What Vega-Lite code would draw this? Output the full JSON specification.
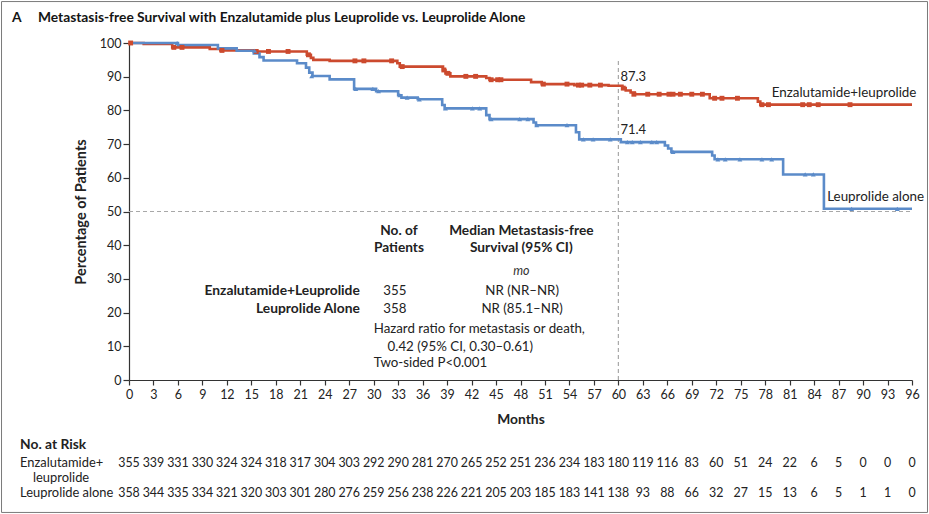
{
  "$schema": "https://vega.github.io/schema/vega-lite/v6.json",
  "width": 783,
  "height": 337,
  "autosize": {"type": "none"},
  "padding": {"left": 129, "top": 43, "right": 17, "bottom": 134},
  "background": "white",
  "config": {
    "view": {"stroke": null},
    "font": "Lato",
    "text": {"color": "#222", "font": "Lato"},
    "axis": {"grid": false},
    "axisX": {
      "tickSize": 5, "labelPadding": 3, "labelFontSize": 12.5, "labelColor": "#222", "labelFlush": false,
      "domainColor": "#333", "tickColor": "#333", "domainWidth": 1.2, "tickWidth": 1.2,
      "titleFontSize": 13.8, "titleFontWeight": "bold", "titleColor": "#222", "titlePadding": 12
    },
    "axisY": {
      "tickSize": 6, "labelPadding": 2, "labelFontSize": 12.5, "labelColor": "#222",
      "domainColor": "#333", "tickColor": "#333", "domainWidth": 1.2, "tickWidth": 1.2,
      "titleFontSize": 14.5, "titleFontWeight": "bold", "titleColor": "#222", "titlePadding": 11
    }
  },
  "title": {
    "text": "A\u00a0\u00a0\u00a0\u00a0\u00a0Metastasis-free Survival with Enzalutamide plus Leuprolide vs. Leuprolide Alone",
    "anchor": "start",
    "frame": "group",
    "dx": -117,
    "offset": -35,
    "baseline": "alphabetic",
    "fontSize": 13.8,
    "fontWeight": "bold",
    "color": "#151515"
  },
  "datasets": {
    "curves": [
      {"arm": "Enzalutamide+leuprolide", "month": 0, "surv": 100},
      {"arm": "Enzalutamide+leuprolide", "month": 1.8, "surv": 99.7},
      {"arm": "Enzalutamide+leuprolide", "month": 5.3, "surv": 98.7},
      {"arm": "Enzalutamide+leuprolide", "month": 9.9, "surv": 98.2},
      {"arm": "Enzalutamide+leuprolide", "month": 11.2, "surv": 97.8},
      {"arm": "Enzalutamide+leuprolide", "month": 15.6, "surv": 97.5},
      {"arm": "Enzalutamide+leuprolide", "month": 21.8, "surv": 96.5},
      {"arm": "Enzalutamide+leuprolide", "month": 22.3, "surv": 95.6},
      {"arm": "Enzalutamide+leuprolide", "month": 22.6, "surv": 95.0},
      {"arm": "Enzalutamide+leuprolide", "month": 24.6, "surv": 94.7},
      {"arm": "Enzalutamide+leuprolide", "month": 32.9, "surv": 94.0},
      {"arm": "Enzalutamide+leuprolide", "month": 33.2, "surv": 93.0},
      {"arm": "Enzalutamide+leuprolide", "month": 38.5, "surv": 92.0},
      {"arm": "Enzalutamide+leuprolide", "month": 38.8, "surv": 91.0},
      {"arm": "Enzalutamide+leuprolide", "month": 39.4, "surv": 90.1},
      {"arm": "Enzalutamide+leuprolide", "month": 43.8, "surv": 89.6},
      {"arm": "Enzalutamide+leuprolide", "month": 44.2, "surv": 89.1},
      {"arm": "Enzalutamide+leuprolide", "month": 49.3, "surv": 88.4},
      {"arm": "Enzalutamide+leuprolide", "month": 50.6, "surv": 87.8},
      {"arm": "Enzalutamide+leuprolide", "month": 54.6, "surv": 87.5},
      {"arm": "Enzalutamide+leuprolide", "month": 58.8, "surv": 87.3},
      {"arm": "Enzalutamide+leuprolide", "month": 60.5, "surv": 86.6},
      {"arm": "Enzalutamide+leuprolide", "month": 60.9, "surv": 85.9},
      {"arm": "Enzalutamide+leuprolide", "month": 61.5, "surv": 85.3},
      {"arm": "Enzalutamide+leuprolide", "month": 62.0, "surv": 84.8},
      {"arm": "Enzalutamide+leuprolide", "month": 71.2, "surv": 83.6},
      {"arm": "Enzalutamide+leuprolide", "month": 77.1, "surv": 82.6},
      {"arm": "Enzalutamide+leuprolide", "month": 77.4, "surv": 81.7},
      {"arm": "Enzalutamide+leuprolide", "month": 96, "surv": 81.7},
      {"arm": "Leuprolide alone", "month": 0, "surv": 100},
      {"arm": "Leuprolide alone", "month": 6.0, "surv": 99.4},
      {"arm": "Leuprolide alone", "month": 10.9, "surv": 98.4},
      {"arm": "Leuprolide alone", "month": 13.2, "surv": 97.7},
      {"arm": "Leuprolide alone", "month": 15.3, "surv": 96.9},
      {"arm": "Leuprolide alone", "month": 16.0, "surv": 95.8},
      {"arm": "Leuprolide alone", "month": 16.5, "surv": 94.8},
      {"arm": "Leuprolide alone", "month": 20.6, "surv": 94.0},
      {"arm": "Leuprolide alone", "month": 21.7, "surv": 92.7},
      {"arm": "Leuprolide alone", "month": 22.1, "surv": 91.2},
      {"arm": "Leuprolide alone", "month": 22.5, "surv": 90.2},
      {"arm": "Leuprolide alone", "month": 24.6, "surv": 89.2},
      {"arm": "Leuprolide alone", "month": 27.6, "surv": 86.4},
      {"arm": "Leuprolide alone", "month": 30.3, "surv": 85.7},
      {"arm": "Leuprolide alone", "month": 33.0, "surv": 84.5},
      {"arm": "Leuprolide alone", "month": 33.4, "surv": 83.8},
      {"arm": "Leuprolide alone", "month": 35.4, "surv": 83.3},
      {"arm": "Leuprolide alone", "month": 38.4, "surv": 81.6},
      {"arm": "Leuprolide alone", "month": 38.7, "surv": 80.6},
      {"arm": "Leuprolide alone", "month": 43.8, "surv": 78.6},
      {"arm": "Leuprolide alone", "month": 44.2, "surv": 77.4},
      {"arm": "Leuprolide alone", "month": 49.6, "surv": 76.4},
      {"arm": "Leuprolide alone", "month": 49.9, "surv": 75.6},
      {"arm": "Leuprolide alone", "month": 54.8, "surv": 73.5},
      {"arm": "Leuprolide alone", "month": 55.2, "surv": 71.4},
      {"arm": "Leuprolide alone", "month": 60.3, "surv": 70.6},
      {"arm": "Leuprolide alone", "month": 65.7, "surv": 69.6},
      {"arm": "Leuprolide alone", "month": 66.1, "surv": 68.7},
      {"arm": "Leuprolide alone", "month": 66.5, "surv": 67.7},
      {"arm": "Leuprolide alone", "month": 71.5, "surv": 66.6},
      {"arm": "Leuprolide alone", "month": 71.8, "surv": 65.5},
      {"arm": "Leuprolide alone", "month": 80.2, "surv": 61.0},
      {"arm": "Leuprolide alone", "month": 85.2, "surv": 50.8},
      {"arm": "Leuprolide alone", "month": 96, "surv": 50.8}
    ],
    "censored": [
      {"arm": "Enzalutamide+leuprolide", "month": 0.2, "surv": 100},
      {"arm": "Enzalutamide+leuprolide", "month": 5.5, "surv": 98.7},
      {"arm": "Enzalutamide+leuprolide", "month": 6.5, "surv": 98.7},
      {"arm": "Enzalutamide+leuprolide", "month": 11.4, "surv": 97.8},
      {"arm": "Enzalutamide+leuprolide", "month": 15.6, "surv": 97.5},
      {"arm": "Enzalutamide+leuprolide", "month": 17.1, "surv": 97.5},
      {"arm": "Enzalutamide+leuprolide", "month": 19.5, "surv": 97.5},
      {"arm": "Enzalutamide+leuprolide", "month": 22.0, "surv": 96.5},
      {"arm": "Enzalutamide+leuprolide", "month": 27.7, "surv": 94.7},
      {"arm": "Enzalutamide+leuprolide", "month": 28.8, "surv": 94.7},
      {"arm": "Enzalutamide+leuprolide", "month": 32.2, "surv": 94.7},
      {"arm": "Enzalutamide+leuprolide", "month": 33.5, "surv": 93.0},
      {"arm": "Enzalutamide+leuprolide", "month": 38.6, "surv": 92.0},
      {"arm": "Enzalutamide+leuprolide", "month": 39.1, "surv": 91.0},
      {"arm": "Enzalutamide+leuprolide", "month": 41.3, "surv": 90.1},
      {"arm": "Enzalutamide+leuprolide", "month": 42.5, "surv": 90.1},
      {"arm": "Enzalutamide+leuprolide", "month": 44.4, "surv": 89.1},
      {"arm": "Enzalutamide+leuprolide", "month": 45.2, "surv": 89.1},
      {"arm": "Enzalutamide+leuprolide", "month": 45.6, "surv": 89.1},
      {"arm": "Enzalutamide+leuprolide", "month": 50.8, "surv": 87.8},
      {"arm": "Enzalutamide+leuprolide", "month": 53.7, "surv": 87.8},
      {"arm": "Enzalutamide+leuprolide", "month": 55.1, "surv": 87.5},
      {"arm": "Enzalutamide+leuprolide", "month": 55.5, "surv": 87.5},
      {"arm": "Enzalutamide+leuprolide", "month": 56.5, "surv": 87.5},
      {"arm": "Enzalutamide+leuprolide", "month": 57.8, "surv": 87.5},
      {"arm": "Enzalutamide+leuprolide", "month": 60.6, "surv": 86.6},
      {"arm": "Enzalutamide+leuprolide", "month": 61.9, "surv": 84.8},
      {"arm": "Enzalutamide+leuprolide", "month": 63.6, "surv": 84.8},
      {"arm": "Enzalutamide+leuprolide", "month": 65.0, "surv": 84.8},
      {"arm": "Enzalutamide+leuprolide", "month": 66.2, "surv": 84.8},
      {"arm": "Enzalutamide+leuprolide", "month": 66.7, "surv": 84.8},
      {"arm": "Enzalutamide+leuprolide", "month": 67.6, "surv": 84.8},
      {"arm": "Enzalutamide+leuprolide", "month": 69.0, "surv": 84.8},
      {"arm": "Enzalutamide+leuprolide", "month": 70.3, "surv": 84.8},
      {"arm": "Enzalutamide+leuprolide", "month": 71.8, "surv": 83.6},
      {"arm": "Enzalutamide+leuprolide", "month": 72.7, "surv": 83.6},
      {"arm": "Enzalutamide+leuprolide", "month": 74.6, "surv": 83.6},
      {"arm": "Enzalutamide+leuprolide", "month": 77.6, "surv": 81.7},
      {"arm": "Enzalutamide+leuprolide", "month": 78.4, "surv": 81.7},
      {"arm": "Enzalutamide+leuprolide", "month": 82.6, "surv": 81.7},
      {"arm": "Enzalutamide+leuprolide", "month": 83.4, "surv": 81.7},
      {"arm": "Enzalutamide+leuprolide", "month": 84.5, "surv": 81.7},
      {"arm": "Enzalutamide+leuprolide", "month": 88.4, "surv": 81.7},
      {"arm": "Leuprolide alone", "month": 5.9, "surv": 100},
      {"arm": "Leuprolide alone", "month": 15.4, "surv": 97.7},
      {"arm": "Leuprolide alone", "month": 22.4, "surv": 90.2},
      {"arm": "Leuprolide alone", "month": 27.8, "surv": 86.4},
      {"arm": "Leuprolide alone", "month": 29.9, "surv": 86.4},
      {"arm": "Leuprolide alone", "month": 30.6, "surv": 85.7},
      {"arm": "Leuprolide alone", "month": 33.2, "surv": 84.5},
      {"arm": "Leuprolide alone", "month": 34.1, "surv": 83.8},
      {"arm": "Leuprolide alone", "month": 35.6, "surv": 83.3},
      {"arm": "Leuprolide alone", "month": 38.8, "surv": 80.6},
      {"arm": "Leuprolide alone", "month": 42.1, "surv": 80.6},
      {"arm": "Leuprolide alone", "month": 43.0, "surv": 80.6},
      {"arm": "Leuprolide alone", "month": 44.4, "surv": 77.4},
      {"arm": "Leuprolide alone", "month": 47.9, "surv": 77.4},
      {"arm": "Leuprolide alone", "month": 48.9, "surv": 77.4},
      {"arm": "Leuprolide alone", "month": 50.0, "surv": 75.6},
      {"arm": "Leuprolide alone", "month": 53.7, "surv": 75.6},
      {"arm": "Leuprolide alone", "month": 55.7, "surv": 71.4},
      {"arm": "Leuprolide alone", "month": 56.9, "surv": 71.4},
      {"arm": "Leuprolide alone", "month": 59.0, "surv": 71.4},
      {"arm": "Leuprolide alone", "month": 61.1, "surv": 70.6},
      {"arm": "Leuprolide alone", "month": 61.7, "surv": 70.6},
      {"arm": "Leuprolide alone", "month": 62.7, "surv": 70.6},
      {"arm": "Leuprolide alone", "month": 64.1, "surv": 70.6},
      {"arm": "Leuprolide alone", "month": 64.7, "surv": 70.6},
      {"arm": "Leuprolide alone", "month": 66.7, "surv": 67.7},
      {"arm": "Leuprolide alone", "month": 72.2, "surv": 65.5},
      {"arm": "Leuprolide alone", "month": 73.1, "surv": 65.5},
      {"arm": "Leuprolide alone", "month": 74.9, "surv": 65.5},
      {"arm": "Leuprolide alone", "month": 77.6, "surv": 65.5},
      {"arm": "Leuprolide alone", "month": 78.8, "surv": 65.5},
      {"arm": "Leuprolide alone", "month": 82.9, "surv": 61.0},
      {"arm": "Leuprolide alone", "month": 83.9, "surv": 61.0},
      {"arm": "Leuprolide alone", "month": 88.6, "surv": 50.8},
      {"arm": "Leuprolide alone", "month": 94.2, "surv": 50.8}
    ],
    "atrisk": [
      {"row": "Enzalutamide+", "month": 0, "n": 355}, {"row": "Enzalutamide+", "month": 3, "n": 339},
      {"row": "Enzalutamide+", "month": 6, "n": 331}, {"row": "Enzalutamide+", "month": 9, "n": 330},
      {"row": "Enzalutamide+", "month": 12, "n": 324}, {"row": "Enzalutamide+", "month": 15, "n": 324},
      {"row": "Enzalutamide+", "month": 18, "n": 318}, {"row": "Enzalutamide+", "month": 21, "n": 317},
      {"row": "Enzalutamide+", "month": 24, "n": 304}, {"row": "Enzalutamide+", "month": 27, "n": 303},
      {"row": "Enzalutamide+", "month": 30, "n": 292}, {"row": "Enzalutamide+", "month": 33, "n": 290},
      {"row": "Enzalutamide+", "month": 36, "n": 281}, {"row": "Enzalutamide+", "month": 39, "n": 270},
      {"row": "Enzalutamide+", "month": 42, "n": 265}, {"row": "Enzalutamide+", "month": 45, "n": 252},
      {"row": "Enzalutamide+", "month": 48, "n": 251}, {"row": "Enzalutamide+", "month": 51, "n": 236},
      {"row": "Enzalutamide+", "month": 54, "n": 234}, {"row": "Enzalutamide+", "month": 57, "n": 183},
      {"row": "Enzalutamide+", "month": 60, "n": 180}, {"row": "Enzalutamide+", "month": 63, "n": 119},
      {"row": "Enzalutamide+", "month": 66, "n": 116}, {"row": "Enzalutamide+", "month": 69, "n": 83},
      {"row": "Enzalutamide+", "month": 72, "n": 60}, {"row": "Enzalutamide+", "month": 75, "n": 51},
      {"row": "Enzalutamide+", "month": 78, "n": 24}, {"row": "Enzalutamide+", "month": 81, "n": 22},
      {"row": "Enzalutamide+", "month": 84, "n": 6}, {"row": "Enzalutamide+", "month": 87, "n": 5},
      {"row": "Enzalutamide+", "month": 90, "n": 0}, {"row": "Enzalutamide+", "month": 93, "n": 0},
      {"row": "Enzalutamide+", "month": 96, "n": 0},
      {"row": "Leuprolide alone", "month": 0, "n": 358}, {"row": "Leuprolide alone", "month": 3, "n": 344},
      {"row": "Leuprolide alone", "month": 6, "n": 335}, {"row": "Leuprolide alone", "month": 9, "n": 334},
      {"row": "Leuprolide alone", "month": 12, "n": 321}, {"row": "Leuprolide alone", "month": 15, "n": 320},
      {"row": "Leuprolide alone", "month": 18, "n": 303}, {"row": "Leuprolide alone", "month": 21, "n": 301},
      {"row": "Leuprolide alone", "month": 24, "n": 280}, {"row": "Leuprolide alone", "month": 27, "n": 276},
      {"row": "Leuprolide alone", "month": 30, "n": 259}, {"row": "Leuprolide alone", "month": 33, "n": 256},
      {"row": "Leuprolide alone", "month": 36, "n": 238}, {"row": "Leuprolide alone", "month": 39, "n": 226},
      {"row": "Leuprolide alone", "month": 42, "n": 221}, {"row": "Leuprolide alone", "month": 45, "n": 205},
      {"row": "Leuprolide alone", "month": 48, "n": 203}, {"row": "Leuprolide alone", "month": 51, "n": 185},
      {"row": "Leuprolide alone", "month": 54, "n": 183}, {"row": "Leuprolide alone", "month": 57, "n": 141},
      {"row": "Leuprolide alone", "month": 60, "n": 138}, {"row": "Leuprolide alone", "month": 63, "n": 93},
      {"row": "Leuprolide alone", "month": 66, "n": 88}, {"row": "Leuprolide alone", "month": 69, "n": 66},
      {"row": "Leuprolide alone", "month": 72, "n": 32}, {"row": "Leuprolide alone", "month": 75, "n": 27},
      {"row": "Leuprolide alone", "month": 78, "n": 15}, {"row": "Leuprolide alone", "month": 81, "n": 13},
      {"row": "Leuprolide alone", "month": 84, "n": 6}, {"row": "Leuprolide alone", "month": 87, "n": 5},
      {"row": "Leuprolide alone", "month": 90, "n": 1}, {"row": "Leuprolide alone", "month": 93, "n": 1},
      {"row": "Leuprolide alone", "month": 96, "n": 0}
    ]
  },
  "layer": [
    {
      "layer": [
        {
          "description": "dashed reference lines at the 50% level and at 60 months",
          "data": {"values": [{"m0": 0, "m1": 96, "p0": 50, "p1": 50}, {"m0": 60, "m1": 60, "p0": 0, "p1": 95}]},
          "mark": {"type": "rule", "color": "#a8a8a8", "strokeWidth": 1.2, "strokeDash": [4, 3]},
          "encoding": {
            "x": {"field": "m0", "type": "quantitative", "scale": {"domain": [0, 96], "nice": false}, "axis": {"title": "Months", "values": [0, 3, 6, 9, 12, 15, 18, 21, 24, 27, 30, 33, 36, 39, 42, 45, 48, 51, 54, 57, 60, 63, 66, 69, 72, 75, 78, 81, 84, 87, 90, 93, 96]}},
            "x2": {"field": "m1"},
            "y": {"field": "p0", "type": "quantitative", "scale": {"domain": [0, 100], "nice": false}, "axis": {"title": "Percentage of Patients", "values": [0, 10, 20, 30, 40, 50, 60, 70, 80, 90, 100]}},
            "y2": {"field": "p1"}
          }
        },
        {
          "data": {"name": "curves"},
          "mark": {"type": "line", "interpolate": "step-after", "strokeWidth": 2.6},
          "encoding": {
            "x": {"field": "month", "type": "quantitative", "scale": {"domain": [0, 96], "nice": false}, "axis": {"title": "Months", "values": [0, 3, 6, 9, 12, 15, 18, 21, 24, 27, 30, 33, 36, 39, 42, 45, 48, 51, 54, 57, 60, 63, 66, 69, 72, 75, 78, 81, 84, 87, 90, 93, 96]}},
            "y": {"field": "surv", "type": "quantitative", "scale": {"domain": [0, 100], "nice": false}, "axis": {"title": "Percentage of Patients", "values": [0, 10, 20, 30, 40, 50, 60, 70, 80, 90, 100]}},
            "color": {
              "field": "arm", "type": "nominal",
              "scale": {"domain": ["Enzalutamide+leuprolide", "Leuprolide alone"], "range": ["#cc4a2e", "#5b8bc9"]},
              "legend": null
            }
          }
        },
        {
          "description": "censoring marks",
          "data": {"name": "censored"},
          "mark": {"type": "point", "filled": true, "opacity": 1, "size": 24},
          "encoding": {
            "x": {"field": "month", "type": "quantitative", "scale": {"domain": [0, 96], "nice": false}, "axis": {"title": "Months", "values": [0, 3, 6, 9, 12, 15, 18, 21, 24, 27, 30, 33, 36, 39, 42, 45, 48, 51, 54, 57, 60, 63, 66, 69, 72, 75, 78, 81, 84, 87, 90, 93, 96]}},
            "y": {"field": "surv", "type": "quantitative", "scale": {"domain": [0, 100], "nice": false}, "axis": {"title": "Percentage of Patients", "values": [0, 10, 20, 30, 40, 50, 60, 70, 80, 90, 100]}},
            "color": {"field": "arm", "type": "nominal", "scale": {"domain": ["Enzalutamide+leuprolide", "Leuprolide alone"], "range": ["#cc4a2e", "#5b8bc9"]}, "legend": null},
            "shape": {"field": "arm", "type": "nominal", "scale": {"domain": ["Enzalutamide+leuprolide", "Leuprolide alone"], "range": ["square", "triangle-up"]}, "legend": null}
          }
        },
        {
          "description": "survival at 60 months",
          "data": {"values": [{"month": 60, "surv": 87.3}, {"month": 60, "surv": 71.4}]},
          "mark": {"type": "text", "align": "left", "baseline": "alphabetic", "dx": 2, "dy": -5, "fontSize": 13, "color": "#222"},
          "encoding": {
            "x": {"field": "month", "type": "quantitative", "scale": {"domain": [0, 96], "nice": false}, "axis": {"title": "Months", "values": [0, 3, 6, 9, 12, 15, 18, 21, 24, 27, 30, 33, 36, 39, 42, 45, 48, 51, 54, 57, 60, 63, 66, 69, 72, 75, 78, 81, 84, 87, 90, 93, 96]}},
            "y": {"field": "surv", "type": "quantitative", "scale": {"domain": [0, 100], "nice": false}, "axis": {"title": "Percentage of Patients", "values": [0, 10, 20, 30, 40, 50, 60, 70, 80, 90, 100]}},
            "text": {"field": "surv", "type": "quantitative", "format": ".1f"}
          }
        },
        {
          "description": "curve names",
          "data": {"values": [{"month": 78.8, "surv": 85.2, "name": "Enzalutamide+leuprolide"}, {"month": 85.6, "surv": 54.2, "name": "Leuprolide alone"}]},
          "mark": {"type": "text", "align": "left", "baseline": "middle", "fontSize": 13.4, "color": "#222"},
          "encoding": {
            "x": {"field": "month", "type": "quantitative", "scale": {"domain": [0, 96], "nice": false}, "axis": {"title": "Months", "values": [0, 3, 6, 9, 12, 15, 18, 21, 24, 27, 30, 33, 36, 39, 42, 45, 48, 51, 54, 57, 60, 63, 66, 69, 72, 75, 78, 81, 84, 87, 90, 93, 96]}},
            "y": {"field": "surv", "type": "quantitative", "scale": {"domain": [0, 100], "nice": false}, "axis": {"title": "Percentage of Patients", "values": [0, 10, 20, 30, 40, 50, 60, 70, 80, 90, 100]}},
            "text": {"field": "name"}
          }
        },
        {
          "description": "inset table: column headings",
          "data": {"values": [
            {"month": 33.1, "surv": 44.3, "txt": "No. of"},
            {"month": 33.1, "surv": 39.2, "txt": "Patients"},
            {"month": 48.1, "surv": 44.3, "txt": "Median Metastasis-free"},
            {"month": 48.1, "surv": 39.2, "txt": "Survival (95% CI)"}
          ]},
          "mark": {"type": "text", "align": "center", "baseline": "middle", "fontSize": 13.7, "fontWeight": "bold", "color": "#222"},
          "encoding": {
            "x": {"field": "month", "type": "quantitative", "scale": {"domain": [0, 96], "nice": false}, "axis": {"title": "Months", "values": [0, 3, 6, 9, 12, 15, 18, 21, 24, 27, 30, 33, 36, 39, 42, 45, 48, 51, 54, 57, 60, 63, 66, 69, 72, 75, 78, 81, 84, 87, 90, 93, 96]}},
            "y": {"field": "surv", "type": "quantitative", "scale": {"domain": [0, 100], "nice": false}, "axis": {"title": "Percentage of Patients", "values": [0, 10, 20, 30, 40, 50, 60, 70, 80, 90, 100]}},
            "text": {"field": "txt"}
          }
        },
        {
          "description": "inset table: unit",
          "data": {"values": [{"month": 48.1, "surv": 32.3, "txt": "mo"}]},
          "mark": {"type": "text", "align": "center", "baseline": "middle", "fontSize": 12.5, "fontStyle": "italic", "color": "#333"},
          "encoding": {
            "x": {"field": "month", "type": "quantitative", "scale": {"domain": [0, 96], "nice": false}, "axis": {"title": "Months", "values": [0, 3, 6, 9, 12, 15, 18, 21, 24, 27, 30, 33, 36, 39, 42, 45, 48, 51, 54, 57, 60, 63, 66, 69, 72, 75, 78, 81, 84, 87, 90, 93, 96]}},
            "y": {"field": "surv", "type": "quantitative", "scale": {"domain": [0, 100], "nice": false}, "axis": {"title": "Percentage of Patients", "values": [0, 10, 20, 30, 40, 50, 60, 70, 80, 90, 100]}},
            "text": {"field": "txt"}
          }
        },
        {
          "description": "inset table: arm names",
          "data": {"values": [
            {"month": 28.3, "surv": 26.3, "txt": "Enzalutamide+Leuprolide"},
            {"month": 28.3, "surv": 21.2, "txt": "Leuprolide Alone"}
          ]},
          "mark": {"type": "text", "align": "right", "baseline": "middle", "fontSize": 13.8, "fontWeight": "bold", "color": "#222"},
          "encoding": {
            "x": {"field": "month", "type": "quantitative", "scale": {"domain": [0, 96], "nice": false}, "axis": {"title": "Months", "values": [0, 3, 6, 9, 12, 15, 18, 21, 24, 27, 30, 33, 36, 39, 42, 45, 48, 51, 54, 57, 60, 63, 66, 69, 72, 75, 78, 81, 84, 87, 90, 93, 96]}},
            "y": {"field": "surv", "type": "quantitative", "scale": {"domain": [0, 100], "nice": false}, "axis": {"title": "Percentage of Patients", "values": [0, 10, 20, 30, 40, 50, 60, 70, 80, 90, 100]}},
            "text": {"field": "txt"}
          }
        },
        {
          "description": "inset table: patient counts and medians",
          "data": {"values": [
            {"month": 32.6, "surv": 26.3, "txt": "355"},
            {"month": 32.6, "surv": 21.2, "txt": "358"},
            {"month": 48.2, "surv": 26.3, "txt": "NR (NR\u2013NR)"},
            {"month": 48.2, "surv": 21.2, "txt": "NR (85.1\u2013NR)"}
          ]},
          "mark": {"type": "text", "align": "center", "baseline": "middle", "fontSize": 13.3, "color": "#222"},
          "encoding": {
            "x": {"field": "month", "type": "quantitative", "scale": {"domain": [0, 96], "nice": false}, "axis": {"title": "Months", "values": [0, 3, 6, 9, 12, 15, 18, 21, 24, 27, 30, 33, 36, 39, 42, 45, 48, 51, 54, 57, 60, 63, 66, 69, 72, 75, 78, 81, 84, 87, 90, 93, 96]}},
            "y": {"field": "surv", "type": "quantitative", "scale": {"domain": [0, 100], "nice": false}, "axis": {"title": "Percentage of Patients", "values": [0, 10, 20, 30, 40, 50, 60, 70, 80, 90, 100]}},
            "text": {"field": "txt"}
          }
        },
        {
          "description": "inset table: hazard ratio and P value",
          "data": {"values": [
            {"month": 30.0, "surv": 15.1, "txt": "Hazard ratio for metastasis or death,"},
            {"month": 31.7, "surv": 9.9, "txt": "0.42 (95% CI, 0.30\u20130.61)"},
            {"month": 30.0, "surv": 5.1, "txt": "Two-sided P<0.001"}
          ]},
          "mark": {"type": "text", "align": "left", "baseline": "middle", "fontSize": 13.3, "color": "#222"},
          "encoding": {
            "x": {"field": "month", "type": "quantitative", "scale": {"domain": [0, 96], "nice": false}, "axis": {"title": "Months", "values": [0, 3, 6, 9, 12, 15, 18, 21, 24, 27, 30, 33, 36, 39, 42, 45, 48, 51, 54, 57, 60, 63, 66, 69, 72, 75, 78, 81, 84, 87, 90, 93, 96]}},
            "y": {"field": "surv", "type": "quantitative", "scale": {"domain": [0, 100], "nice": false}, "axis": {"title": "Percentage of Patients", "values": [0, 10, 20, 30, 40, 50, 60, 70, 80, 90, 100]}},
            "text": {"field": "txt"}
          }
        },
        {
          "description": "thin frame around the whole figure",
          "data": {"values": [{}]},
          "mark": {"type": "rect", "filled": false, "color": "#7a7a7a", "strokeWidth": 1},
          "encoding": {
            "x": {"datum": -15.63, "type": "quantitative", "scale": {"domain": [0, 96], "nice": false}, "axis": {"title": "Months", "values": [0, 3, 6, 9, 12, 15, 18, 21, 24, 27, 30, 33, 36, 39, 42, 45, 48, 51, 54, 57, 60, 63, 66, 69, 72, 75, 78, 81, 84, 87, 90, 93, 96]}},
            "x2": {"datum": 97.9},
            "y": {"datum": 112.3, "type": "quantitative", "scale": {"domain": [0, 100], "nice": false}, "axis": {"title": "Percentage of Patients", "values": [0, 10, 20, 30, 40, 50, 60, 70, 80, 90, 100]}},
            "y2": {"datum": -39.3}
          }
        }
      ]
    },
    {
      "description": "number at risk table under the time axis",
      "layer": [
        {
          "data": {"name": "atrisk"},
          "mark": {"type": "text", "align": "center", "baseline": "middle", "fontSize": 12.4, "color": "#222"},
          "encoding": {
            "x": {"field": "month", "type": "quantitative", "scale": {"domain": [0, 96], "nice": false}, "axis": {"title": "Months", "values": [0, 3, 6, 9, 12, 15, 18, 21, 24, 27, 30, 33, 36, 39, 42, 45, 48, 51, 54, 57, 60, 63, 66, 69, 72, 75, 78, 81, 84, 87, 90, 93, 96]}},
            "y": {"field": "row", "type": "nominal", "scale": {"type": "point", "domain": ["No. at Risk", "Enzalutamide+", "leuprolide", "Leuprolide alone"], "range": [405, 450], "padding": 0}, "axis": null},
            "text": {"field": "n", "type": "quantitative"}
          }
        },
        {
          "data": {"values": [
            {"row": "Enzalutamide+", "label": "Enzalutamide+"},
            {"row": "Leuprolide alone", "label": "Leuprolide alone"}
          ]},
          "mark": {"type": "text", "align": "left", "baseline": "middle", "fontSize": 12.9, "color": "#222"},
          "encoding": {
            "x": {"datum": -13.36, "type": "quantitative", "scale": {"domain": [0, 96], "nice": false}, "axis": {"title": "Months", "values": [0, 3, 6, 9, 12, 15, 18, 21, 24, 27, 30, 33, 36, 39, 42, 45, 48, 51, 54, 57, 60, 63, 66, 69, 72, 75, 78, 81, 84, 87, 90, 93, 96]}},
            "y": {"field": "row", "type": "nominal", "scale": {"type": "point", "domain": ["No. at Risk", "Enzalutamide+", "leuprolide", "Leuprolide alone"], "range": [405, 450], "padding": 0}, "axis": null},
            "text": {"field": "label"}
          }
        },
        {
          "data": {"values": [{"row": "leuprolide", "label": "leuprolide"}]},
          "mark": {"type": "text", "align": "left", "baseline": "middle", "fontSize": 12.9, "color": "#222"},
          "encoding": {
            "x": {"datum": -11.77, "type": "quantitative", "scale": {"domain": [0, 96], "nice": false}, "axis": {"title": "Months", "values": [0, 3, 6, 9, 12, 15, 18, 21, 24, 27, 30, 33, 36, 39, 42, 45, 48, 51, 54, 57, 60, 63, 66, 69, 72, 75, 78, 81, 84, 87, 90, 93, 96]}},
            "y": {"field": "row", "type": "nominal", "scale": {"type": "point", "domain": ["No. at Risk", "Enzalutamide+", "leuprolide", "Leuprolide alone"], "range": [405, 450], "padding": 0}, "axis": null},
            "text": {"field": "label"}
          }
        },
        {
          "data": {"values": [{"row": "No. at Risk"}]},
          "mark": {"type": "text", "align": "left", "baseline": "middle", "dy": -3, "fontSize": 13.8, "fontWeight": "bold", "color": "#222"},
          "encoding": {
            "x": {"datum": -13.36, "type": "quantitative", "scale": {"domain": [0, 96], "nice": false}, "axis": {"title": "Months", "values": [0, 3, 6, 9, 12, 15, 18, 21, 24, 27, 30, 33, 36, 39, 42, 45, 48, 51, 54, 57, 60, 63, 66, 69, 72, 75, 78, 81, 84, 87, 90, 93, 96]}},
            "y": {"field": "row", "type": "nominal", "scale": {"type": "point", "domain": ["No. at Risk", "Enzalutamide+", "leuprolide", "Leuprolide alone"], "range": [405, 450], "padding": 0}, "axis": null},
            "text": {"field": "row"}
          }
        }
      ]
    }
  ],
  "resolve": {"scale": {"y": "independent"}}
}
